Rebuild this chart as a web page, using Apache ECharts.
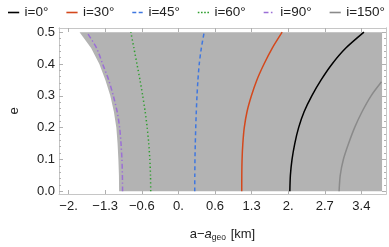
<!DOCTYPE html>
<html><head><meta charset="utf-8">
<script src="https://cdn.jsdelivr.net/npm/echarts@6/dist/echarts.min.js"></script>
<style>html,body{margin:0;padding:0;background:#fff}#c{width:389px;height:247px}</style>
</head><body><div id="c"></div>
<script>
// ---- data ----
const eGrid = [0, 0.05, 0.1, 0.15, 0.2, 0.25, 0.3, 0.35, 0.4, 0.45, 0.5];
const x_i0   = [2.03, 2.04, 2.07, 2.12, 2.19, 2.29, 2.43, 2.60, 2.80, 3.05, 3.38];
const x_i30  = [1.154, 1.155, 1.16, 1.174, 1.2, 1.25, 1.33, 1.43, 1.56, 1.71, 1.89];
const x_i45  = [0.298, 0.299, 0.302, 0.308, 0.316, 0.326, 0.339, 0.356, 0.38, 0.418, 0.47];
const x_i60  = [-0.504, -0.508, -0.52, -0.54, -0.568, -0.605, -0.65, -0.70, -0.755, -0.81, -0.866];
const x_i90  = [-1.017, -1.02, -1.028, -1.045, -1.07, -1.115, -1.185, -1.27, -1.38, -1.49, -1.668];
const eGrid150 = [0, 0.05, 0.1, 0.15, 0.2, 0.25, 0.3, 0.344];
const x_i150 = [2.927, 2.948, 3.005, 3.10, 3.21, 3.345, 3.51, 3.70];
const regionLeftX = [-1.08, -1.083, -1.093, -1.108, -1.13, -1.175, -1.24, -1.33, -1.44, -1.59, -1.80];
const regionRightX = 3.71;
const seriesNames = ['i=0°', 'i=30°', 'i=45°', 'i=60°', 'i=90°', 'i=150°'];
const xTickVals = [-2, -4/3, -2/3, 0, 2/3, 4/3, 2, 8/3, 10/3];
const xTickLabels = ['−2.', '−1.3', '−0.6', '0.', '0.6', '1.3', '2.', '2.7', '3.4'];
const yTickVals = [0, 0.1, 0.2, 0.3, 0.4, 0.5];
const yTickLabels = ['0.0', '0.1', '0.2', '0.3', '0.4', '0.5'];
const yMinorVals = [0.02,0.04,0.06,0.08,0.12,0.14,0.16,0.18,0.22,0.24,0.26,0.28,0.32,0.34,0.36,0.38,0.42,0.44,0.46,0.48];

// ---- view ----
const XMIN = -2.1747, XMAX = 3.7817, YMIN = -0.0085, YMAX = 0.5131;
const frameColor = '#c6c6c6', tickColor = '#b0b0b0';
const FONT = 'Liberation Sans';
function pairs(xs, es) { return xs.map((x, i) => [x, es[i]]); }
function xLab(v) { let b = 0, d = 1e9; xTickVals.forEach((t, i) => { if (Math.abs(t - v) < d) { d = Math.abs(t - v); b = i; } }); return xTickLabels[b]; }
function yLab(v) { let b = 0, d = 1e9; yTickVals.forEach((t, i) => { if (Math.abs(t - v) < d) { d = Math.abs(t - v); b = i; } }); return yTickLabels[b]; }

function mkX(pos, labels) {
  return {
    type: 'value', position: pos, min: XMIN, max: XMAX,
    axisLine: { show: true, onZero: false, lineStyle: { color: frameColor, width: 1 } },
    axisTick: { show: true, inside: true, length: 4, customValues: xTickVals, lineStyle: { color: tickColor } },
    axisLabel: labels ? { show: true, customValues: xTickVals, formatter: xLab, color: '#222', fontSize: 13, fontFamily: FONT, margin: 6 } : { show: false },
    splitLine: { show: false },
    name: labels ? '{n|a−}{i|a}{s|geo}{n| [km]}' : '',
    nameLocation: 'middle', nameGap: 33,
    nameTextStyle: { rich: {
      n: { fontSize: 13, fontFamily: FONT, color: '#222' },
      i: { fontSize: 13, fontFamily: FONT, color: '#222', fontStyle: 'italic' },
      s: { fontSize: 8.5, fontFamily: FONT, color: '#222', padding: [6, 1, 0, 0] }
    } }
  };
}
function mkY(pos, labels, vals, len) {
  return {
    type: 'value', position: pos, min: YMIN, max: YMAX,
    axisLine: { show: true, onZero: false, lineStyle: { color: frameColor, width: 1 } },
    axisTick: { show: true, inside: true, length: len, customValues: vals, lineStyle: { color: tickColor } },
    axisLabel: labels ? { show: true, customValues: yTickVals, formatter: yLab, color: '#222', fontSize: 13, fontFamily: FONT, margin: 4 } : { show: false },
    splitLine: { show: false },
    name: labels ? 'e' : '', nameLocation: 'middle', nameGap: 38, nameRotate: 90,
    nameTextStyle: { fontSize: 13, fontFamily: FONT, color: '#222' }
  };
}

const ICON_SOLID = 'path://M0,0h14v2h-14z';
const ICON_DASH = 'path://M0,0h5v2h-5zM8,0h5v2h-5z';
const ICON_DOT = 'path://M0,0h2v2h-2zM4,0h2v2h-2zM8,0h2v2h-2zM12,0h2v2h-2z';
const ICON_DASHDOT = 'path://M0,0h6v2h-6zM9,0h2v2h-2zM14,0h0.01v2h-0.01z';

const lineDefs = [
  { x: x_i0, e: eGrid, color: '#000000', type: 'solid', icon: ICON_SOLID },
  { x: x_i30, e: eGrid, color: '#d4481c', type: 'solid', icon: ICON_SOLID },
  { x: x_i45, e: eGrid, color: '#3f77e0', type: [4, 3], icon: ICON_DASH },
  { x: x_i60, e: eGrid, color: '#2e9e2e', type: [1.3, 2.6], icon: ICON_DOT },
  { x: x_i90, e: eGrid, color: '#9b6fd6', type: [5, 2.5, 1.3, 2.5], icon: ICON_DASHDOT },
  { x: x_i150, e: eGrid150, color: '#8a8a8a', type: 'solid', icon: ICON_SOLID }
];

const series = [{
  type: 'custom', name: 'region', silent: true, z: 1,
  data: [0],
  renderItem: function (params, api) {
    const pts = regionLeftX.map((x, i) => api.coord([x, eGrid[i]]));
    pts.push(api.coord([regionRightX, eGrid[eGrid.length - 1]]));
    pts.push(api.coord([regionRightX, eGrid[0]]));
    return { type: 'polygon', shape: { points: pts }, style: { fill: '#b3b3b3', stroke: null } };
  }
}];
lineDefs.forEach((d, k) => series.push({
  type: 'line', name: seriesNames[k], data: pairs(d.x, d.e), smooth: 0.25,
  symbol: 'none', z: 3, clip: true,
  lineStyle: { color: d.color, width: 1.5, type: d.type },
  itemStyle: { color: d.color }
}));

const chart = echarts.init(document.getElementById('c'), null, { renderer: 'canvas' });
chart.setOption({
  animation: false,
  backgroundColor: '#fff',
  grid: { left: 45, right: 3, top: 28, bottom: 47.5, containLabel: false },
  legend: {
    data: seriesNames.map((n, k) => ({ name: n, icon: lineDefs[k].icon, itemStyle: { color: lineDefs[k].color } })),
    top: 0, left: 3, width: 1000, itemWidth: 12, itemHeight: 1.6, itemGap: 18,
    textStyle: { fontSize: 13.5, fontFamily: FONT, color: '#222', lineHeight: 15 }
  },
  xAxis: [mkX('bottom', true), mkX('top', false)],
  yAxis: [mkY('left', true, yTickVals, 4), mkY('right', false, yTickVals, 4),
          mkY('left', false, yMinorVals, 2), mkY('right', false, yMinorVals, 2)],
  series: series
});
</script></body></html>
